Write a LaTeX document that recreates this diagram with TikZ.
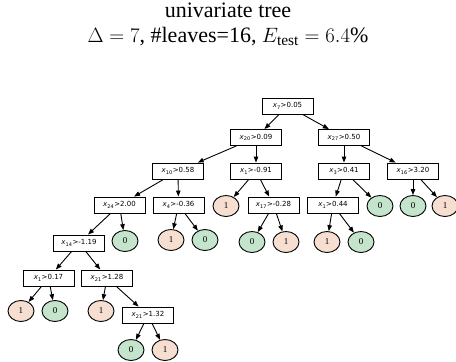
\documentclass[tikz,border=0pt]{standalone}
\usepackage{amsmath,amssymb}
\usepackage{fontspec}
\setmainfont{Liberation Serif}
\newfontfamily\splitfont{DejaVu Sans}
\usepackage{xcolor}
\usepackage{tikz}
\usetikzlibrary{positioning,arrows.meta,shapes.geometric}
\definecolor{leafpink}{RGB}{246,222,208}
\definecolor{leafgreen}{RGB}{196,228,204}
\newcommand{\splitlabel}[2]{\textit{x}\textsubscript{#1}>#2}

\begin{document}
\begin{tikzpicture}[x=1pt,y=-1pt,line width=0.9pt,>={Triangle[length=6pt,width=4.5pt]},every node/.style={font=\footnotesize}]
\tikzstyle{split}=[draw,minimum width=51pt,minimum height=16pt,inner sep=1pt,font=\splitfont\fontsize{7}{8}\selectfont]
\tikzstyle{one}=[draw,ellipse,fill=leafpink,minimum width=26pt,minimum height=21pt,inner sep=0pt,font=\fontsize{9}{10}\selectfont]
\tikzstyle{zero}=[one,fill=leafgreen]
\useasboundingbox (0,0) rectangle (456,362);
\node[align=center,font=\fontsize{22}{25}\selectfont] (title) at (228,24) {univariate tree\\$\Delta=7$, \#leaves=16, $E_{\text{test}}=6.4\%$};
% split nodes
\node[split] (root) at (287.5,106) {\splitlabel{7}{0.05}};
\node[split] (s20) at (256,137.5) {\splitlabel{20}{0.09}};
\node[split] (s27) at (344,137.5) {\splitlabel{27}{0.50}};
\node[split] (s10) at (178,171) {\splitlabel{10}{0.58}};
\node[split] (s1a) at (256,171) {\splitlabel{1}{-0.91}};
\node[split] (s3) at (344,171) {\splitlabel{3}{0.41}};
\node[split] (s16) at (413,171) {\splitlabel{16}{3.20}};
\node[split] (s24) at (119.5,205) {\splitlabel{24}{2.00}};
\node[split] (s4) at (178.5,205) {\splitlabel{4}{-0.36}};
\node[split] (s17) at (273.5,205) {\splitlabel{17}{-0.28}};
\node[split] (s1b) at (333,205) {\splitlabel{1}{0.44}};
\node[split] (s14) at (79,243) {\splitlabel{14}{-1.19}};
\node[split] (s1c) at (48.5,278) {\splitlabel{1}{0.17}};
\node[split] (s21a) at (107,278) {\splitlabel{21}{1.28}};
\node[split] (s21b) at (148,315) {\splitlabel{21}{1.32}};
% leaves
\node[one] (l1) at (226,206) {1};
\node[zero] (l2) at (380,206) {0};
\node[zero] (l3) at (413,206) {0};
\node[one] (l4) at (445,206) {1};
\node[zero] (l5) at (125,241) {0};
\node[one] (l6) at (171,240) {1};
\node[zero] (l7) at (205,240) {0};
\node[zero] (l8) at (252,242) {0};
\node[one] (l9) at (286,242) {1};
\node[one] (l10) at (327,242) {1};
\node[zero] (l11) at (361,242) {0};
\node[one] (l12) at (21,311) {1};
\node[zero] (l13) at (55,311) {0};
\node[one] (l14) at (101,311) {1};
\node[zero] (l15) at (131,350) {0};
\node[one] (l16) at (165,350) {1};
% edges
\draw[->] (root) -- (s20);
\draw[->] (root) -- (s27);
\draw[->] (s20) -- (s10);
\draw[->] (s20) -- (s1a);
\draw[->] (s27) -- (s3);
\draw[->] (s27) -- (s16);
\draw[->] (s10) -- (s24);
\draw[->] (s10) -- (s4);
\draw[->] (s1a) -- (l1);
\draw[->] (s1a) -- (s17);
\draw[->] (s3) -- (s1b);
\draw[->] (s3) -- (l2);
\draw[->] (s16) -- (l3);
\draw[->] (s16) -- (l4);
\draw[->] (s24) -- (s14);
\draw[->] (s24) -- (l5);
\draw[->] (s4) -- (l6);
\draw[->] (s4) -- (l7);
\draw[->] (s17) -- (l8);
\draw[->] (s17) -- (l9);
\draw[->] (s1b) -- (l10);
\draw[->] (s1b) -- (l11);
\draw[->] (s14) -- (s1c);
\draw[->] (s14) -- (s21a);
\draw[->] (s1c) -- (l12);
\draw[->] (s1c) -- (l13);
\draw[->] (s21a) -- (l14);
\draw[->] (s21a) -- (s21b);
\draw[->] (s21b) -- (l15);
\draw[->] (s21b) -- (l16);
\end{tikzpicture}
\end{document}
